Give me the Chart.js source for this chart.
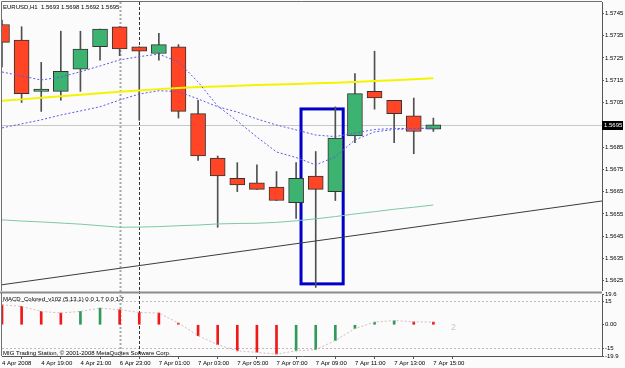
<!DOCTYPE html>
<html>
<head>
<meta charset="utf-8">
<title>EURUSD,H1</title>
<script src="https://cdn.jsdelivr.net/npm/chart.js@4.4.1/dist/chart.umd.min.js"></script>
<style>
  html, body { margin:0; padding:0; background:#fcfbfc; }
  #wrap { position:relative; width:625px; height:368px; overflow:hidden; }
  #main { position:absolute; left:0; top:0; }
  #macd { position:absolute; left:0; top:291px; }
</style>
</head>
<body>
<div id="wrap">
  <canvas id="main" width="625" height="291"></canvas>
  <canvas id="macd" width="625" height="77"></canvas>
</div>
<script>
// ---- data (H1 bars, 4 Apr 17:00 .. 7 Apr 15:00) ----
var symbol = 'EURUSD,H1'
var open  = [1.5740,1.5733,1.5710,1.5710,1.5720,1.5730,1.5739,1.5730,1.5727,1.5730,1.5700,1.5680,1.5671,1.5669,1.5667,1.5660,1.5672,1.5665,1.5690,1.5710,1.5706,1.5699,1.5693]
var high  = [1.5742,1.5739,1.5723,1.5737,1.5737,1.5738,1.5739,1.5730,1.5736,1.5731,1.5706,1.5681,1.5678,1.5677,1.5674,1.5678,1.5683,1.5703,1.5718,1.5728,1.5706,1.5707,1.5698]
var low   = [1.5721,1.5705,1.5701,1.5706,1.5710,1.5724,1.5726,1.5697,1.5724,1.5698,1.5679,1.5649,1.5665,1.5666,1.5661,1.5653,1.5622,1.5661,1.5687,1.5702,1.5687,1.5682,1.5692]
var close = [1.5732,1.5709,1.5711,1.5719,1.5729,1.5738,1.5729,1.5728,1.5731,1.5701,1.5681,1.5672,1.5668,1.5666,1.5661,1.5671,1.5666,1.5689,1.5709,1.5707,1.5700,1.5692,1.5695]

// moving averages
var maYellow = [1.57058,1.57064,1.57071,1.57078,1.57085,1.57092,1.57098,1.57104,1.57110,1.57115,1.57119,1.57122,1.57125,1.57128,1.57131,1.57133,1.57136,1.57139,1.57142,1.57146,1.57150,1.57154,1.57159]
var maGreen  = [1.56523,1.56518,1.56514,1.56509,1.56504,1.56497,1.56490,1.56491,1.56493,1.56497,1.56500,1.56505,1.56507,1.56508,1.56512,1.56519,1.56528,1.56538,1.56550,1.56560,1.56571,1.56580,1.56590]
var maFast   = [1.57187,1.57169,1.57151,1.57164,1.57188,1.57214,1.57241,1.57256,1.57267,1.57232,1.57142,1.57034,1.56967,1.56895,1.56828,1.56803,1.56770,1.56806,1.56882,1.56918,1.56929,1.56933,1.56936]
var maSlow   = [1.56936,1.56954,1.56972,1.56994,1.57012,1.57031,1.57061,1.57088,1.57103,1.57099,1.57066,1.57031,1.57007,1.56976,1.56949,1.56927,1.56904,1.56897,1.56913,1.56929,1.56933,1.56934,1.56934]

// drawn objects
var trendX = [0, 30.6]
var trendY = [1.56232, 1.56608]
var boxX = [15.25, 17.40]
var boxY = [1.56236, 1.57021]
var separatorIdx = [6, 7]

// axes
var xMax = 30.6
var priceMin = 1.56204, priceMax = 1.57501
var priceTicks = [1.5745,1.5735,1.5725,1.5715,1.5705,1.5695,1.5685,1.5675,1.5665,1.5655,1.5645,1.5635,1.5625]
var tickIndex  = [0,2,4,6,8,10,12,14,16,18,20,22]
var tickLabels = ['4 Apr 2008','4 Apr 19:00','4 Apr 21:00','6 Apr 23:00','7 Apr 01:00','7 Apr 03:00','7 Apr 05:00','7 Apr 07:00','7 Apr 09:00','7 Apr 11:00','7 Apr 13:00','7 Apr 15:00']

// MACD_Colored (5,13,1) sub window
var macd = [12.7,11.7,8.5,7.5,8.5,10.6,9.6,7.8,7.5,1.1,-7.0,-12.7,-16.6,-17.6,-18.7,-16.6,-15.9,-10.0,-2.5,1.7,2.7,1.9,1.7]
var macdLevels = [15, -15]
var macdMin = -19.9, macdMax = 19.6
var macdTicks = [19.6, 15, 0, -15, -19.9]
var macdTickText = ['19.6','15','0.00','-15','-19.9']

var FONT = "'Liberation Sans',Arial,sans-serif"
Chart.defaults.font.family = FONT
Chart.defaults.font.size = 6
Chart.defaults.color = '#000'

function pts(arr){ return arr.map(function(v,i){ return {x:i, y:v} }) }
// keep the plot edges where they are, labels may hang over
function noPad(s){ s.paddingTop = 0; s.paddingBottom = 0; s.paddingLeft = 0; s.paddingRight = 0 }

var UP = '#3cb371', DOWN = '#ff4526'
var last = close.length - 1

// things drawn under / over the candles on the price window
var priceDecor = {
  id: 'priceDecor',
  beforeDraw: function(chart){
    var ctx = chart.ctx
    ctx.save()
    ctx.fillStyle = '#fcfbfc'
    ctx.fillRect(0, 0, chart.width, chart.height)
    ctx.restore()
  },
  beforeDatasetsDraw: function(chart){
    var ctx = chart.ctx, a = chart.chartArea, x = chart.scales.x, y = chart.scales.y
    ctx.save()
    ctx.beginPath(); ctx.rect(a.left, a.top, a.right - a.left, a.bottom - a.top); ctx.clip()
    // bid line
    var by = Math.round(y.getPixelForValue(close[last])) + 0.5
    ctx.strokeStyle = '#c8c8c8'; ctx.lineWidth = 1
    ctx.beginPath(); ctx.moveTo(a.left, by); ctx.lineTo(a.right, by); ctx.stroke()
    // period separators
    separatorIdx.forEach(function(idx, k){
      var sx = Math.round(x.getPixelForValue(idx)) + 0.5
      ctx.strokeStyle = k == 0 ? '#a8a8a8' : '#303030'
      ctx.lineWidth = k == 0 ? 2 : 1
      ctx.setLineDash(k == 0 ? [2,2] : [3,2])
      ctx.beginPath(); ctx.moveTo(sx, a.top); ctx.lineTo(sx, a.bottom); ctx.stroke()
    })
    ctx.setLineDash([])
    // rectangle object
    var x1 = x.getPixelForValue(boxX[0]), x2 = x.getPixelForValue(boxX[1])
    var y1 = y.getPixelForValue(boxY[1]), y2 = y.getPixelForValue(boxY[0])
    ctx.strokeStyle = '#0000c8'; ctx.lineWidth = 3
    ctx.strokeRect(x1, y1, x2 - x1, y2 - y1)
    ctx.restore()
  },
  afterDraw: function(chart){
    var ctx = chart.ctx, a = chart.chartArea, y = chart.scales.y
    ctx.save()
    // frame
    ctx.strokeStyle = '#707070'; ctx.lineWidth = 1
    ctx.beginPath()
    ctx.moveTo(a.left - 0.5, a.bottom); ctx.lineTo(a.left - 0.5, a.top - 0.5); ctx.lineTo(a.right, a.top - 0.5)
    ctx.stroke()
    // header
    ctx.font = '6px ' + FONT
    ctx.fillStyle = '#000'; ctx.textBaseline = 'middle'; ctx.textAlign = 'left'
    ctx.fillText(symbol + '  ' + [open[last],high[last],low[last],close[last]].map(function(v){return v.toFixed(4)}).join(' '), 3, 7)
    // bid price box
    var by = Math.round(y.getPixelForValue(close[last]))
    ctx.fillStyle = '#000'
    ctx.fillRect(a.right, by - 4, 21, 9)
    ctx.fillStyle = '#fff'
    ctx.fillText(close[last].toFixed(4), a.right + 2, by + 0.5)
    ctx.restore()
  }
}

new Chart(document.getElementById('main'), {
  type: 'bar',
  data: {
    datasets: [
      { type:'line', label:'trend', data: trendX.map(function(v,i){ return {x:v, y:trendY[i]} }),
        borderColor:'#3c3c3c', borderWidth:1, pointRadius:0, order:1 },
      { type:'line', label:'ma fast', data: pts(maFast), borderColor:'#5a5ae6', borderWidth:1, borderDash:[2,2], pointRadius:0, order:2 },
      { type:'line', label:'ma slow', data: pts(maSlow), borderColor:'#5a5ae6', borderWidth:1, borderDash:[2,2], pointRadius:0, order:3 },
      { type:'line', label:'ma yellow', data: pts(maYellow), borderColor:'#f4f400', borderWidth:2, pointRadius:0, order:4 },
      { type:'line', label:'ma green', data: pts(maGreen), borderColor:'#7ccaa2', borderWidth:1, pointRadius:0, order:5 },
      { label:'body', data: open.map(function(o,i){ return {x:i, y:[o, close[i]]} }),
        backgroundColor: close.map(function(c,i){ return c >= open[i] ? UP : DOWN }),
        borderColor:'#333', borderWidth:1, borderSkipped:false, barThickness:15, grouped:false, order:10 },
      { label:'wick', data: low.map(function(l,i){ return {x:i, y:[l, high[i]]} }),
        backgroundColor:'#505050', barThickness:1, grouped:false, order:11 }
    ]
  },
  options: {
    responsive:false, animation:false, devicePixelRatio:1, events:[],
    layout: { padding: { left:2, top:2, right:0, bottom:0 } },
    plugins: { legend:{display:false}, tooltip:{enabled:false} },
    scales: {
      x: { type:'linear', min:0, max:xMax, offset:false, display:false },
      y: { type:'linear', position:'right', min:priceMin, max:priceMax,
           afterBuildTicks: function(s){ s.ticks = priceTicks.map(function(v){ return {value:v} }) },
           afterFit: function(s){ s.width = 23; noPad(s) },
           ticks: { callback: function(v){ return v.toFixed(4) }, padding:1, autoSkip:false, color:'#000' },
           grid: { drawOnChartArea:false, drawTicks:true, tickLength:2, tickColor:'#555' },
           border: { display:true, color:'#555' } }
    }
  },
  plugins: [priceDecor]
})

// MACD window
var macdDecor = {
  id: 'macdDecor',
  beforeDraw: function(chart){
    var ctx = chart.ctx
    ctx.save()
    ctx.fillStyle = '#fcfbfc'
    ctx.fillRect(0, 0, chart.width, chart.height)
    ctx.restore()
  },
  beforeDatasetsDraw: function(chart){
    var ctx = chart.ctx, a = chart.chartArea, x = chart.scales.x, y = chart.scales.y
    ctx.save()
    // level lines
    ctx.strokeStyle = '#c4b8b8'; ctx.lineWidth = 1; ctx.setLineDash([2,2])
    macdLevels.forEach(function(l){
      var ly = Math.round(y.getPixelForValue(l)) + 0.5
      ctx.beginPath(); ctx.moveTo(a.left, ly); ctx.lineTo(a.right, ly); ctx.stroke()
    })
    separatorIdx.forEach(function(idx, k){
      var sx = Math.round(x.getPixelForValue(idx)) + 0.5
      ctx.strokeStyle = k == 0 ? '#a8a8a8' : '#303030'
      ctx.lineWidth = k == 0 ? 2 : 1
      ctx.setLineDash(k == 0 ? [2,2] : [3,2])
      ctx.beginPath(); ctx.moveTo(sx, 0); ctx.lineTo(sx, a.bottom); ctx.stroke()
    })
    ctx.restore()
  },
  afterDraw: function(chart){
    var ctx = chart.ctx, a = chart.chartArea, x = chart.scales.x, y = chart.scales.y
    ctx.save()
    // window separator and left frame
    ctx.fillStyle = '#8c8c8c'
    ctx.fillRect(0, 0.5, a.right, 2)
    ctx.strokeStyle = '#707070'; ctx.lineWidth = 1
    ctx.beginPath(); ctx.moveTo(a.left - 0.5, 2); ctx.lineTo(a.left - 0.5, a.bottom); ctx.stroke()
    ctx.font = '6px ' + FONT
    ctx.fillStyle = '#000'; ctx.textBaseline = 'middle'; ctx.textAlign = 'left'
    ctx.fillText('MACD_Colored_v102 (5,13,1) 0.0 ' + macd[last].toFixed(1) + ' 0.0 ' + macd[last].toFixed(1), 3, 8)
    ctx.fillText('MIG Trading Station, \u00a9 2001-2008 MetaQuotes Software Corp.', 3, 62)
    ctx.font = '9px ' + FONT
    ctx.fillStyle = '#c8c8c8'
    ctx.fillText('2', x.getPixelForValue(last + 0.9), y.getPixelForValue(-1.7))
    ctx.restore()
  }
}

new Chart(document.getElementById('macd'), {
  type: 'bar',
  data: {
    datasets: [
      { type:'line', label:'signal', data: pts(macd), borderColor:'#d6bcbc', borderWidth:1, borderDash:[2,2], pointRadius:0, order:1 },
      { label:'macd', data: pts(macd),
        backgroundColor: macd.map(function(v,i){ return (i > 0 && v > macd[i-1]) ? '#2f9a5c' : '#f01818' }),
        barThickness:2, grouped:false, order:2 }
    ]
  },
  options: {
    responsive:false, animation:false, devicePixelRatio:1, events:[],
    layout: { padding: { left:2, top:3, right:0, bottom:0 } },
    plugins: { legend:{display:false}, tooltip:{enabled:false} },
    scales: {
      x: { type:'linear', min:0, max:xMax, offset:false, position:'bottom',
           afterBuildTicks: function(s){ s.ticks = tickIndex.map(function(v){ return {value:v} }) },
           afterFit: function(s){ s.height = 12; noPad(s) },
           ticks: { callback: function(v, i){ return tickLabels[i] }, align:'start', autoSkip:false, maxRotation:0, padding:1, color:'#000' },
           grid: { drawOnChartArea:false, drawTicks:true, tickLength:3, tickColor:'#555' },
           border: { display:true, color:'#555' } },
      y: { type:'linear', position:'right', min:macdMin, max:macdMax,
           afterBuildTicks: function(s){ s.ticks = macdTicks.map(function(v){ return {value:v} }) },
           afterFit: function(s){ s.width = 23; noPad(s) },
           ticks: { callback: function(v, i){ return macdTickText[i] }, padding:1, autoSkip:false, color:'#000' },
           grid: { drawOnChartArea:false, drawTicks:true, tickLength:2, tickColor:'#555' },
           border: { display:true, color:'#555' } }
    }
  },
  plugins: [macdDecor]
})
</script>
</body>
</html>
